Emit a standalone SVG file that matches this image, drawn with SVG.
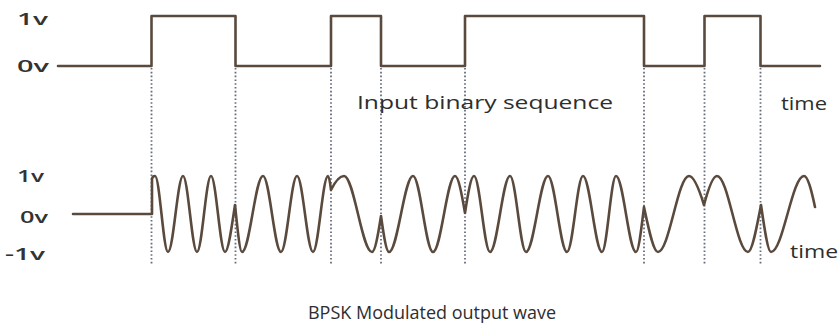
<svg xmlns="http://www.w3.org/2000/svg" width="840" height="325" viewBox="0 0 840 325">
<style>
.wave{fill:none;stroke:#5a4a3e;stroke-width:2.6;stroke-linejoin:round;stroke-linecap:round}
.guide{fill:none;stroke:#656c7c;stroke-width:1.8;stroke-dasharray:1.6 2.2}
.lbl{font-family:"Open Sans","Liberation Sans",sans-serif;fill:#333;font-size:16px;font-weight:600}
.cap{font-family:"Open Sans","Liberation Sans",sans-serif;fill:#2e2e2e;font-size:18px;font-weight:500}
</style>
<rect width="840" height="325" fill="#ffffff"/>
<g id="guides">
<path class="guide" d="M151.5 68V265M235.5 68V265M331 68V265M381 68V265M465 68V265M644 68V265M704.5 68V265M760.5 68V265"/>
</g>
<g id="input-signal">
<path class="wave" d="M58 66H151.5V16H235.5V66H331V16H381V66H465V16H644V66H704.5V16H760.5V66H820"/>
</g>
<g id="bpsk-signal">
<path class="wave" d="M73 214L152 214L152 179Q152.5 176 155 176
C159.7 176 163.3 252 168 252
C173.4 252 177.6 176 183 176
C188 176 192 252 197 252
C202 252 206 176 211 176
C216 176 220 252 225 252
C228.3 252 231.7 227 235 205
C237.3 227 239.7 252 242 252
C249.6 252 255.4 176 263 176
C269.5 176 274.5 252 281 252
C286.8 252 291.2 176 297 176
C302.8 176 307.2 252 313 252
C318.4 252 322.6 176 328 176
C329 176 330 181.2 331 190
C335.3 181.3 339.7 176 344 176
C354 176 362 252 372 252
C375 252 378 235.2 381 216
C383.7 235.2 386.3 252 389 252
C397.6 252 404.4 176 413 176
C420.2 176 425.8 252 433 252
C440.9 252 447.1 176 455 176
C458.3 176 461.7 193.5 465 213
C468 193.5 471 176 474 176
C479.8 176 484.2 252 490 252
C497.2 252 502.8 176 510 176
C515.8 176 520.2 252 526 252
C533.9 252 540.1 176 548 176
C554.8 176 560.2 252 567 252
C572.8 252 577.2 176 583 176
C589.8 176 595.2 252 602 252
C607 252 611 176 616 176
C623.2 176 628.8 252 636 252
C638.7 252 641.3 228.9 644 207
C648.7 229 653.3 252 658 252
C669.2 252 677.8 176 689 176
C694 176 699 188.7 704 205
C708.3 188.7 712.7 176 717 176
C728.2 176 736.8 252 748 252
C752.3 252 756.7 227.1 761 205
C764.3 227.3 767.7 252 771 252
C782.9 252 792.1 176 804 176
C807.7 176 811.3 189.6 815 207"/>
</g>
<g id="labels">
<text class="lbl" x="17" y="25" textLength="31" lengthAdjust="spacingAndGlyphs">1v</text>
<text class="lbl" x="17" y="72" textLength="32" lengthAdjust="spacingAndGlyphs">0v</text>
<text class="lbl" x="17" y="182" textLength="27" lengthAdjust="spacingAndGlyphs">1v</text>
<text class="lbl" x="20" y="223" textLength="28" lengthAdjust="spacingAndGlyphs">0v</text>
<text class="lbl" x="5" y="260" textLength="40" lengthAdjust="spacingAndGlyphs">-1v</text>
<text class="cap" x="357" y="109" textLength="256" lengthAdjust="spacingAndGlyphs">Input binary sequence</text>
<text class="cap" x="781" y="110" textLength="46" lengthAdjust="spacingAndGlyphs">time</text>
<text class="cap" x="790" y="258" textLength="48" lengthAdjust="spacingAndGlyphs">time</text>
<text class="cap" x="308" y="319" textLength="248" lengthAdjust="spacingAndGlyphs">BPSK Modulated output wave</text>
</g>
</svg>
